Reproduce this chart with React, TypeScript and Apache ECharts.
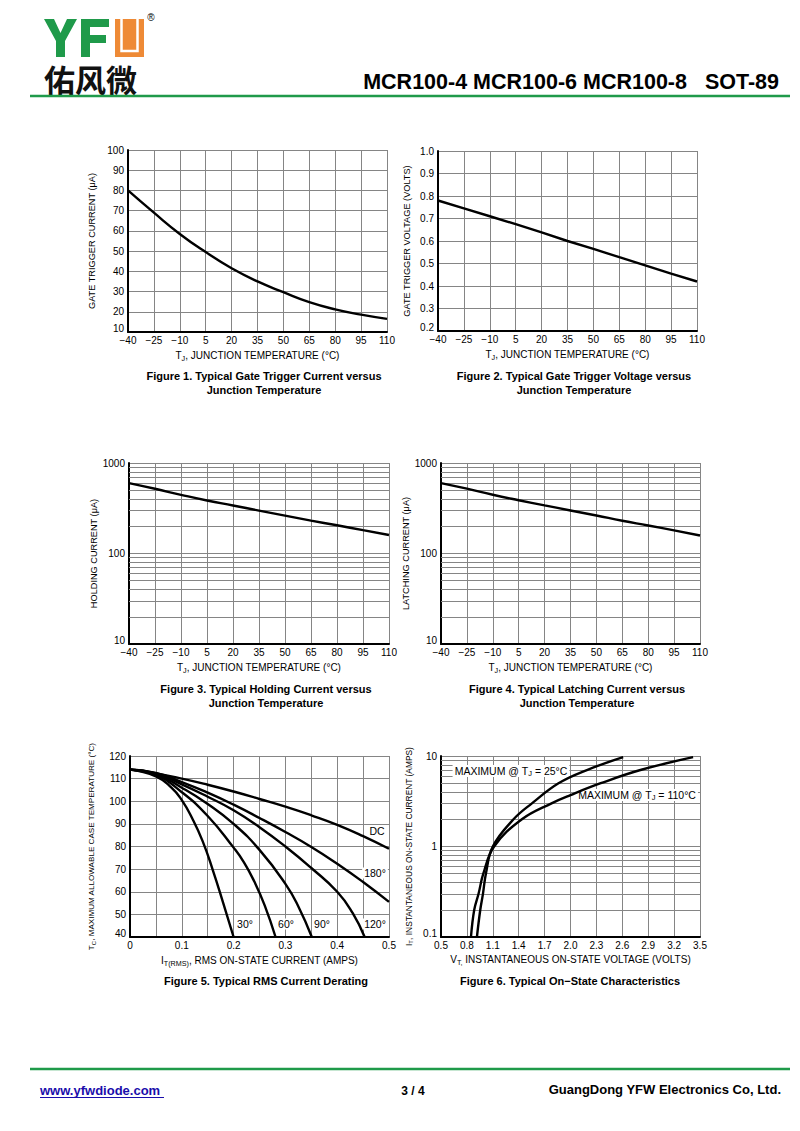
import React, { useEffect, useRef } from "react";
import * as echarts from "echarts";

// ---------------- data ----------------
const tempCats = ["−40", "−25", "−10", "5", "20", "35", "50", "65", "80", "95", "110"];
const gateCurrent = [80, 69, 58.5, 49.5, 41.5, 35, 29.7, 24.8, 21.2, 18.6, 16.5];
const gateVoltage = [0.78, 0.745, 0.71, 0.675, 0.638, 0.6, 0.565, 0.528, 0.492, 0.455, 0.42];
const holdingCurrent = [600, 519, 445, 385, 339, 298, 262, 231, 205, 181, 160];
const latchingCurrent = [600, 520, 446, 388, 340, 299, 263, 230, 204, 180, 158];
const logMinorA = [20, 30, 40, 50, 60, 70, 80, 90, 200, 300, 400, 500, 600, 700, 800, 900];
const logMinorB = [0.2, 0.3, 0.4, 0.5, 0.6, 0.7, 0.8, 0.9, 2, 3, 4, 5, 6, 7, 8, 9];

const derDC = [[0, 114], [0.05, 112.3], [0.1, 110], [0.15, 107.3], [0.2, 104.3], [0.25, 101], [0.3, 97.6], [0.35, 93.8], [0.4, 89.6], [0.45, 84.6], [0.5, 79]];
const der180 = [[0, 114], [0.05, 112.5], [0.1, 108.5], [0.15, 103.8], [0.2, 98.5], [0.25, 92.6], [0.3, 86.4], [0.35, 79.8], [0.4, 72.4], [0.45, 64.3], [0.5, 55.5]];
const der120 = [[0, 114], [0.05, 112.3], [0.1, 107.5], [0.15, 102], [0.2, 96], [0.25, 88.5], [0.3, 80], [0.35, 70.5], [0.4, 60], [0.43, 50.5], [0.453, 40]];
const der90 = [[0, 114], [0.05, 112], [0.1, 106], [0.15, 98.8], [0.2, 90], [0.25, 78.5], [0.3, 63.5], [0.325, 53.5], [0.351, 40]];
const der60 = [[0, 114], [0.05, 111.6], [0.1, 104], [0.15, 93.5], [0.2, 79.5], [0.22, 73], [0.24, 64.5], [0.26, 54], [0.281, 40]];
const der30 = [[0, 114], [0.05, 111], [0.08, 106], [0.1, 100.5], [0.12, 92.5], [0.14, 82.5], [0.16, 69.5], [0.18, 55], [0.2, 40]];

const vtCats = ["0.5", "0.8", "1.1", "1.4", "1.7", "2.0", "2.3", "2.6", "2.9", "3.2", "3.5"];
const onState25 = [[0.916, 0.1], [0.955, 0.2], [0.986, 0.3], [1.02, 0.5], [1.1, 1], [1.34, 2], [1.553, 3], [1.861, 5], [2.19, 7], [2.61, 9.7]];
const onState110 = [[0.847, 0.1], [0.885, 0.2], [0.935, 0.3], [0.99, 0.5], [1.115, 1], [1.437, 2], [1.78, 3], [2.0, 3.7], [2.35, 5], [2.81, 7], [3.42, 9.7]];

// ---------------- styles ----------------
const F = "'Liberation Sans', Arial, Helvetica, sans-serif";
const GRID_C = "#858585";
const GREEN = "#1f9a4a";

const nameRich = (size: number) => ({
  a: { fontSize: size, fontFamily: F, color: "#000" },
  b: { fontSize: size * 0.72, fontFamily: F, color: "#000", padding: [size * 0.55, 0, 0, 0] },
});

const axisLineS = { show: true, lineStyle: { color: "#000", width: 2 } };
const splitS = { show: true, lineStyle: { color: GRID_C, width: 1 } };
const labelS = { color: "#000", fontSize: 10, fontFamily: F };

// y labels: the lowest one is lifted a little, as in the reference
const yLabel = (min: number, fmt: (v: number) => string) => ({
  ...labelS, margin: 4,
  formatter: (v: number) => (Math.abs(v - min) < 1e-9 ? `{m|${fmt(v)}}` : fmt(v)),
  rich: { m: { fontSize: 10, fontFamily: F, color: "#000", padding: [0, 0, 7, 0] } },
});
const fmtInt = (v: number) => String(Math.round(v));
const fmt1 = (v: number) => v.toFixed(1);
const fmtLog = (v: number) => (v >= 1 ? String(Math.round(v)) : v.toFixed(1));

function catX(gridIndex: number, cats: string[], name: string, gap = 17) {
  return {
    type: "category", gridIndex, data: cats, boundaryGap: false,
    axisLine: axisLineS, axisTick: { show: false },
    axisLabel: { ...labelS, margin: 3, interval: 0 },
    splitLine: { ...splitS, interval: 0 },
    name, nameLocation: "middle", nameGap: gap,
    nameTextStyle: { rich: nameRich(10) },
  };
}
function yAx(gridIndex: number, extra: any, name: string, gap: number, nsize = 9.2) {
  return {
    gridIndex, axisLine: axisLineS, axisTick: { show: false },
    splitLine: splitS,
    name, nameLocation: "middle", nameRotate: 90, nameGap: gap,
    nameTextStyle: { rich: nameRich(nsize) },
    ...extra,
  };
}
const lineS = (xi: number, yi: number, data: any, smooth: any = true, extra: any = {}) => ({
  type: "line", xAxisIndex: xi, yAxisIndex: yi, data, smooth, symbol: "none", z: 3,
  lineStyle: { color: "#000", width: 2.4 }, itemStyle: { color: "#000" }, ...extra,
});
const minorLines = (vals: number[]) => ({
  silent: true, symbol: ["none", "none"], z: 1, animation: false,
  label: { show: false }, lineStyle: { color: GRID_C, width: 1, type: "solid" },
  emphasis: { disabled: true },
  data: vals.map((v) => ({ yAxis: v })),
});

const tjName = "{a|T}{b|J}{a|, JUNCTION TEMPERATURE (°C)}";

const txt = (x: number, y: number, text: string, font: string, align = "center", extra: any = {}, z = 100) => ({
  type: "text", x, y, z,
  style: { text, font, fill: "#000", textAlign: align, textVerticalAlign: "middle", ...extra },
});
const ann = (x: number, y: number, text: string) =>
  txt(x, y, text, `10.5px ${F}`, "center", { backgroundColor: "#fff", padding: [0, 2] }, 2);
const annRich = (x: number, y: number, text: string) => ({
  type: "text", x, y, z: 2,
  style: {
    text, textAlign: "center", textVerticalAlign: "middle",
    backgroundColor: "#fff", padding: [0, 2],
    rich: {
      a: { fontSize: 10.5, fontFamily: F, fill: "#000", lineHeight: 12 },
      b: { fontSize: 7.5, fontFamily: F, fill: "#000", lineHeight: 12, padding: [4, 0, 0, 0] },
    },
  },
});

export default function App() {
  const ref = useRef<HTMLDivElement>(null);
  useEffect(() => {
    if (!ref.current) return;
    const chart = echarts.init(ref.current, undefined, { renderer: "svg" });
    const capFont = `bold 11px ${F}`;
    const option: any = {
      animation: false,
      backgroundColor: "#fff",
      grid: [
        { left: 128, top: 150, width: 259, height: 182 },
        { left: 438, top: 151, width: 259, height: 180 },
        { left: 129, top: 463, width: 260, height: 181 },
        { left: 441, top: 463, width: 259, height: 181 },
        { left: 130, top: 756, width: 259, height: 181 },
        { left: 441, top: 756, width: 259, height: 181 },
      ],
      xAxis: [
        catX(0, tempCats, tjName),
        catX(1, tempCats, tjName),
        catX(2, tempCats, tjName),
        catX(3, tempCats, tjName),
        {
          type: "value", gridIndex: 4, min: 0, max: 0.5, interval: 0.05,
          axisLine: axisLineS, axisTick: { show: false },
          axisLabel: {
            ...labelS, margin: 3,
            formatter: (v: number) => (Math.round(v * 100) % 10 === 0 ? String(Math.round(v * 10) / 10) : ""),
          },
          splitLine: splitS,
          name: "{a|I}{b|T(RMS)}{a|, RMS ON-STATE CURRENT (AMPS)}", nameLocation: "middle", nameGap: 17,
          nameTextStyle: { rich: nameRich(10) },
        },
        catX(5, vtCats, "{a|V}{b|T,}{a| INSTANTANEOUS ON-STATE VOLTAGE (VOLTS)}", 16),
        { type: "value", gridIndex: 5, min: 0.5, max: 3.5, show: false },
      ],
      yAxis: [
        yAx(0, { type: "value", min: 10, max: 100, interval: 10, axisLabel: yLabel(10, fmtInt) }, "{a|GATE TRIGGER CURRENT (μA)}", 32),
        yAx(1, { type: "value", min: 0.2, max: 1.0, interval: 0.1, axisLabel: yLabel(0.2, fmt1) }, "{a|GATE TRIGGER VOLTAGE (VOLTS)}", 27),
        yAx(2, { type: "log", logBase: 10, min: 10, max: 1000, axisLabel: yLabel(10, fmtLog) }, "{a|HOLDING CURRENT (μA)}", 30),
        yAx(3, { type: "log", logBase: 10, min: 10, max: 1000, axisLabel: yLabel(10, fmtLog) }, "{a|LATCHING CURRENT (μA)}", 29),
        yAx(4, { type: "value", min: 40, max: 120, interval: 10, axisLabel: yLabel(40, fmtInt) }, "{a|T}{b|C}{a|, MAXIMUM ALLOWABLE CASE TEMPERATURE (°C)}", 33, 8.1),
        yAx(5, { type: "log", logBase: 10, min: 0.1, max: 10, axisLabel: yLabel(0.1, fmtLog) }, "{a|I}{b|T}{a|, INSTANTANEOUS ON-STATE CURRENT (AMPS)}", 27, 8.4),
      ],
      series: [
        lineS(0, 0, gateCurrent),
        lineS(1, 1, gateVoltage, false),
        lineS(2, 2, holdingCurrent, true, { markLine: minorLines(logMinorA) }),
        lineS(3, 3, latchingCurrent, true, { markLine: minorLines(logMinorA) }),
        lineS(4, 4, derDC, true),
        lineS(4, 4, der180, true),
        lineS(4, 4, der120, true),
        lineS(4, 4, der90, true),
        lineS(4, 4, der60, true),
        lineS(4, 4, der30, true),
        lineS(6, 5, onState25, 0.4, { markLine: minorLines(logMinorB) }),
        lineS(6, 5, onState110, 0.4),
      ],
      graphic: [
        // header logo: Y and F as shapes, U as orange block
        { type: "polygon", z: 100, shape: { points: [[44, 19], [54, 19], [60.5, 33], [67, 19], [77, 19], [65, 41], [65, 57], [56, 57], [56, 41]] }, style: { fill: GREEN } },
        { type: "polygon", z: 100, shape: { points: [[81, 19], [109, 19], [109, 27], [90, 27], [90, 35], [106, 35], [106, 43], [90, 43], [90, 57], [81, 57]] }, style: { fill: GREEN } },
        { type: "rect", z: 100, shape: { x: 115, y: 19, width: 29, height: 38 }, style: { fill: "#ee8a36" } },
        { type: "polyline", z: 101, shape: { points: [[121.5, 19], [121.5, 51], [137.5, 51], [137.5, 19]] }, style: { stroke: "#fff", lineWidth: 2.5, fill: null } },
        txt(151, 17, "®", `10px ${F}`),
        { type: "text", x: 44, y: 78, z: 100, style: { text: "佑风微", font: `bold 31px 'Noto Sans CJK SC'`, fill: "#111", textVerticalAlign: "middle" } },
        txt(779, 82, "MCR100-4 MCR100-6 MCR100-8   SOT-89", `bold 21.5px ${F}`, "right"),
        { type: "line", z: 100, shape: { x1: 30, y1: 96, x2: 790, y2: 96 }, style: { stroke: GREEN, lineWidth: 2.5 } },
        // captions
        txt(264, 376, "Figure 1. Typical Gate Trigger Current versus", capFont),
        txt(264, 390, "Junction Temperature", capFont),
        txt(574, 376, "Figure 2. Typical Gate Trigger Voltage versus", capFont),
        txt(574, 390, "Junction Temperature", capFont),
        txt(266, 689, "Figure 3. Typical Holding Current versus", capFont),
        txt(266, 703, "Junction Temperature", capFont),
        txt(577, 689, "Figure 4. Typical Latching Current versus", capFont),
        txt(577, 703, "Junction Temperature", capFont),
        txt(266, 981, "Figure 5. Typical RMS Current Derating", capFont),
        txt(570, 981, "Figure 6. Typical On\u2212State Characteristics", capFont),
        // fig 5 annotations
        ann(377, 831, "DC"),
        ann(375, 873, "180°"),
        ann(245, 924, "30°"),
        ann(286, 924, "60°"),
        ann(322, 924, "90°"),
        ann(375, 924, "120°"),
        // fig 6 annotations
        annRich(511, 771, "{a|MAXIMUM @ T}{b|J}{a| = 25°C}"),
        annRich(637, 795, "{a|MAXIMUM @ T}{b|J}{a| = 110°C}"),
        // footer
        { type: "line", z: 100, shape: { x1: 30, y1: 1069, x2: 790, y2: 1069 }, style: { stroke: GREEN, lineWidth: 2.5 } },
        txt(40, 1090, "www.yfwdiode.com", `bold 13px ${F}`, "left", { fill: "#1a0dab" }),
        { type: "line", z: 100, shape: { x1: 40, y1: 1097.5, x2: 164, y2: 1097.5 }, style: { stroke: "#1a0dab", lineWidth: 1 } },
        txt(413, 1091, "3 / 4", `bold 12px ${F}`),
        txt(781, 1089, "GuangDong YFW Electronics Co, Ltd.", `bold 13px ${F}`, "right"),
      ],
    };
    chart.setOption(option);
    return () => chart.dispose();
  }, []);
  return <div ref={ref} style={{ position: "absolute", left: 0, top: 0, width: 800, height: 1131, background: "#fff" }} />;
}
